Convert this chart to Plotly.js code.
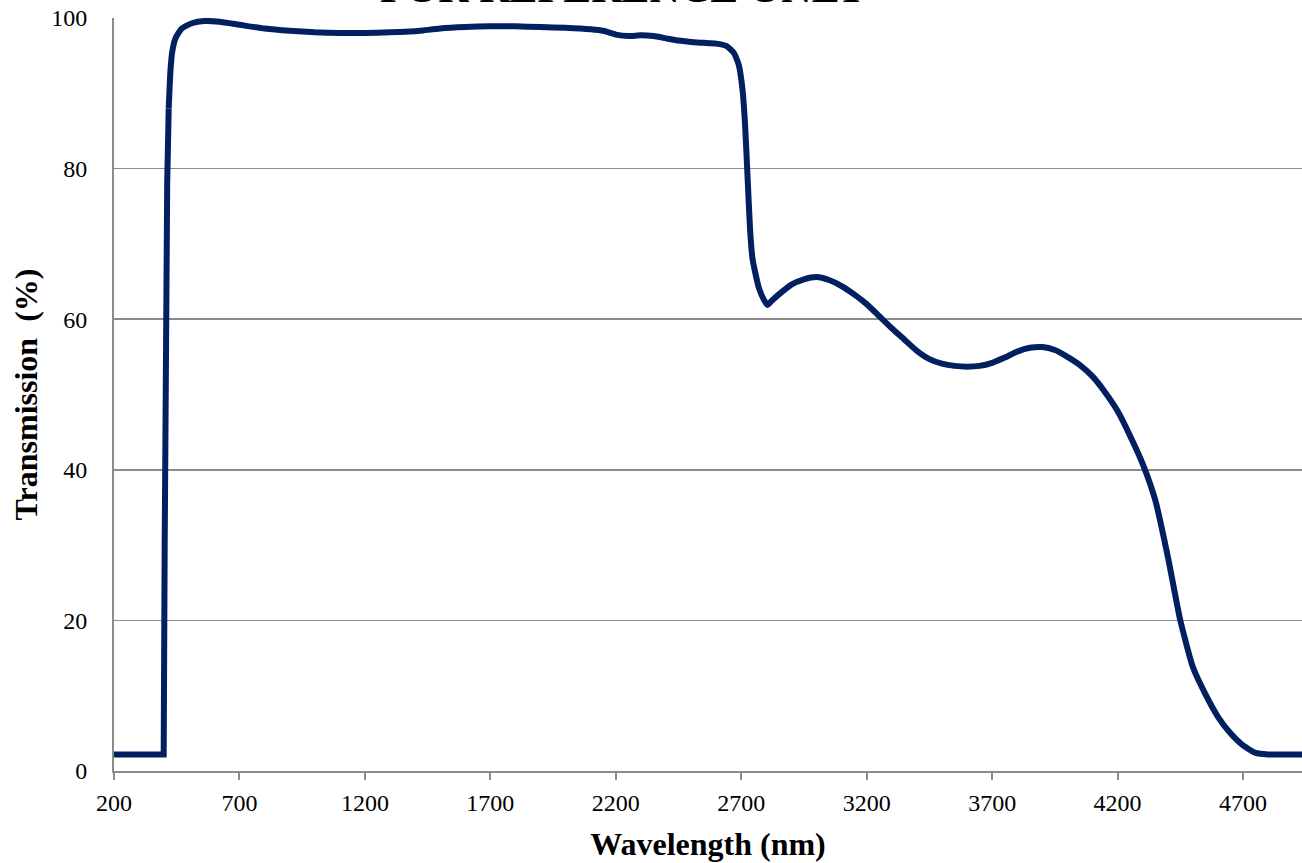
<!DOCTYPE html>
<html>
<head>
<meta charset="utf-8">
<script src="https://cdn.plot.ly/plotly-3.0.1.min.js"></script>
<style>
html,body{margin:0;padding:0;background:#fff;}
#chart{width:1302px;height:863px;}
</style>
</head>
<body>
<div id="chart"></div>
<script>
const wavelength = [200, 300, 398, 402, 407, 412, 418, 425, 432, 445, 470, 510, 560, 620, 700, 800, 900, 1000, 1100, 1200, 1300, 1380, 1420, 1500, 1600, 1700, 1800, 1900, 2000, 2100, 2150, 2200, 2250, 2300, 2350, 2400, 2450, 2500, 2550, 2600, 2640, 2670, 2690, 2705, 2715, 2725, 2735, 2745, 2755, 2770, 2790, 2805, 2820, 2850, 2900, 2950, 3000, 3050, 3100, 3150, 3200, 3250, 3300, 3350, 3400, 3450, 3500, 3550, 3600, 3650, 3700, 3750, 3800, 3850, 3900, 3950, 4000, 4050, 4100, 4150, 4200, 4250, 4300, 4350, 4400, 4450, 4500, 4550, 4600, 4650, 4700, 4750, 4800, 4935];
const transmission = [2.2, 2.2, 2.2, 30, 60, 78, 88, 93, 95.5, 97.3, 98.6, 99.3, 99.6, 99.5, 99.1, 98.6, 98.3, 98.1, 98.0, 98.0, 98.1, 98.2, 98.3, 98.6, 98.8, 98.9, 98.9, 98.8, 98.7, 98.5, 98.3, 97.8, 97.6, 97.7, 97.6, 97.3, 97.0, 96.8, 96.7, 96.6, 96.3, 95.4, 93.8, 90.5, 86, 79, 72, 68, 66.3, 64.2, 62.6, 61.9, 62.4, 63.3, 64.6, 65.3, 65.6, 65.2, 64.4, 63.3, 62.0, 60.4, 58.8, 57.3, 55.8, 54.7, 54.1, 53.8, 53.7, 53.8, 54.2, 54.9, 55.7, 56.2, 56.3, 55.9, 55.0, 53.9, 52.4, 50.3, 47.8, 44.5, 40.8, 36.0, 28.5, 20.0, 13.8, 10.2, 7.2, 5.0, 3.4, 2.4, 2.2, 2.2];
const xTicks = [200, 700, 1200, 1700, 2200, 2700, 3200, 3700, 4200, 4700];
const yTicks = [0, 20, 40, 60, 80, 100];
const chartTitle = "FOR REFERENCE ONLY";
const xTitle = "Wavelength (nm)";
const yTitle = "Transmission  (%)";

const serif = "Liberation Serif, Times New Roman, serif";
const lineColor = '#002060';
// sharp absorption edge drawn linearly, the rest smoothed
const split = wavelength.indexOf(418);
const edge = {
  x: wavelength.slice(0, split + 1), y: transmission.slice(0, split + 1),
  type: 'scatter', mode: 'lines',
  line: {color: lineColor, width: 6, shape: 'linear'}, hoverinfo: 'skip'
};
const body = {
  x: wavelength.slice(split), y: transmission.slice(split),
  type: 'scatter', mode: 'lines',
  line: {color: lineColor, width: 6, shape: 'spline', smoothing: 0.5}, hoverinfo: 'skip'
};
const layout = {
  width: 1302, height: 863,
  margin: {l: 114, r: 0, t: 18, b: 92, pad: 0},
  paper_bgcolor: '#fff', plot_bgcolor: '#fff',
  showlegend: false,
  font: {family: serif, color: '#000', size: 24},
  xaxis: {
    range: [200, 4935], tickmode: 'array', tickvals: xTicks,
    ticktext: xTicks.map(String),
    showgrid: false, zeroline: false,
    showline: true, linecolor: '#8c8c8c', linewidth: 2,
    ticks: 'outside', ticklen: 7, tickwidth: 2, tickcolor: '#8c8c8c',
    tickfont: {family: serif, size: 24, color: '#000'},
    ticklabelstandoff: 2,
    title: {text: '<b>' + xTitle + '</b>', font: {family: serif, size: 32, color: '#000'}, standoff: 18}
  },
  yaxis: {
    range: [0, 100], tickmode: 'array', tickvals: yTicks,
    ticktext: yTicks.map(String),
    showgrid: true, gridcolor: '#8c8c8c', gridwidth: 1.5,
    zeroline: false,
    showline: true, linecolor: '#8c8c8c', linewidth: 2,
    ticks: '',
    tickfont: {family: serif, size: 24, color: '#000'},
    ticklabelstandoff: 20,
    title: {text: '<b>' + yTitle + '</b>', font: {family: serif, size: 32, color: '#000'}, standoff: 4}
  },
  annotations: [{
    text: '<b>' + chartTitle + '</b>', xref: 'paper', yref: 'paper',
    x: (623 - 114) / 1188, y: 1, xanchor: 'center', yanchor: 'bottom',
    yshift: 5, showarrow: false,
    font: {family: serif, size: 42, color: '#000'}
  }]
};
Plotly.newPlot('chart', [edge, body], layout, {displayModeBar: false, staticPlot: true});
</script>
</body>
</html>
